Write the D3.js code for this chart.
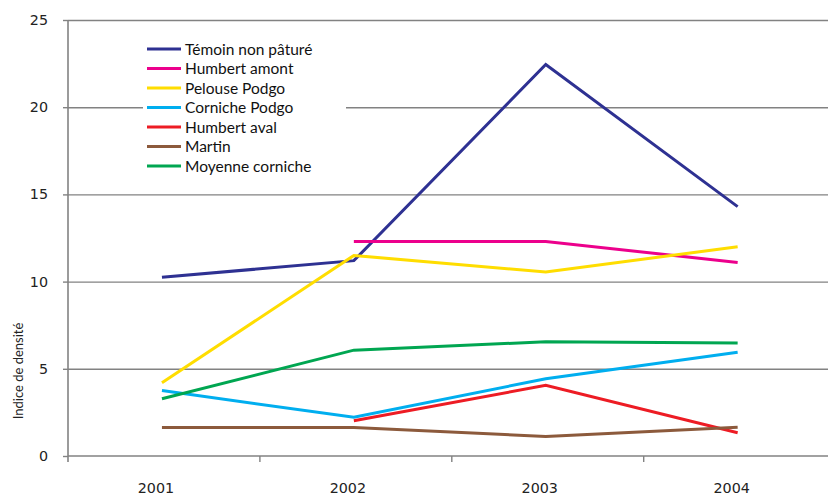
<!DOCTYPE html>
<html><head><meta charset="utf-8">
<script src="https://cdn.jsdelivr.net/npm/d3@7"></script>
<style>body{margin:0;background:#fff}svg{display:block}</style>
</head><body>
<svg id="c" width="828" height="495"></svg>
<script>
const years = ["2001","2002","2003","2004"];
const seriesNames = ["Témoin non pâturé","Humbert amont","Pelouse Podgo","Corniche Podgo","Humbert aval","Martin","Moyenne corniche"];
const seriesColors = ["#2E3192","#EC008C","#FFDD00","#00AEEF","#ED1C24","#8C5A3C","#00A651"];
const temoin   = [10.25, 11.2, 22.45, 14.3];
const humbAmont= [null, 12.3, 12.3, 11.1];
const pelouse  = [4.2, 11.5, 10.55, 12.0];
const corniche = [3.75, 2.22, 4.43, 5.95];
const humbAval = [null, 2.02, 4.05, 1.33];
const martin   = [1.63, 1.63, 1.12, 1.65];
const moyenne  = [3.28, 6.07, 6.55, 6.48];
const yTicks = [0,5,10,15,20,25];
const yTitle = "Indice de densité";

const seriesValues = [temoin, humbAmont, pelouse, corniche, humbAval, martin, moyenne];

(function(){
const svg = d3.select("#c");
const mL = 68, mB = 456, mT = 20, mR = 828;
const x = d3.scaleBand().domain(years).range([mL, 835.6]).padding(0);
const y = d3.scaleLinear().domain([0,25]).range([mB, mT]);
const bw = x.bandwidth();
const gray = "#828282";

// gridlines
const grid = svg.append("g").attr("transform",`translate(${mL},0)`)
  .call(d3.axisLeft(y).tickValues(yTicks.filter(d=>d>0)).tickSize(-(mR-mL)).tickFormat(""));
grid.select(".domain").remove();
grid.selectAll("line").attr("stroke",gray).attr("stroke-width",1.4);

// y axis
const ya = svg.append("g").attr("transform",`translate(${mL},0)`)
  .call(d3.axisLeft(y).tickValues(yTicks).tickSize(5).tickPadding(15));
ya.select(".domain").attr("stroke",gray).attr("stroke-width",1.6)
  .attr("d",`M0,${mT}V${mB+6}`);
ya.selectAll("line").attr("stroke",gray).attr("stroke-width",1.4);
ya.selectAll("text").attr("font-family","'DejaVu Sans', Verdana, sans-serif").attr("font-size",14.3).attr("fill","#222");

// x axis
const xa = svg.append("g").attr("transform",`translate(0,${mB})`)
  .call(d3.axisBottom(x).tickSize(0).tickPadding(27));
xa.select(".domain").attr("stroke",gray).attr("stroke-width",1.6).attr("d",`M${mL},0H${mR}`);
xa.selectAll("text").attr("font-family","'DejaVu Sans', Verdana, sans-serif").attr("font-size",14.3).attr("fill","#222").attr("dx",-8);
svg.append("g").selectAll("line").data(years.slice(0,3)).join("line")
  .attr("x1",d=>x(d)+bw).attr("x2",d=>x(d)+bw).attr("y1",mB).attr("y2",mB+6)
  .attr("stroke",gray).attr("stroke-width",1.4);

// y title
svg.append("text").attr("transform","translate(23,371) rotate(-90)")
  .attr("text-anchor","middle").attr("font-family","Lato, 'Open Sans', sans-serif").attr("font-size",13)
  .attr("fill","#222").text(yTitle);

// legend
const lg = svg.append("g");
lg.append("rect").attr("x",143).attr("y",36).attr("width",203).attr("height",142).attr("fill","#fff");
const rowY = i => 49 + i*19.5;
seriesNames.forEach((n,i)=>{
  lg.append("line").attr("x1",147).attr("x2",181).attr("y1",rowY(i)).attr("y2",rowY(i))
    .attr("stroke",seriesColors[i]).attr("stroke-width",3);
  lg.append("text").attr("x",185).attr("y",rowY(i)).attr("dy","0.36em")
    .attr("font-family","Lato, 'Open Sans', sans-serif").attr("font-size",15.5).attr("fill","#111").text(n);
});

// lines
const line = d3.line().defined(d=>d.v!=null).x(d=>x(d.c)+bw/2-2).y(d=>y(d.v));
seriesValues.forEach((vals,i)=>{
  svg.append("path").datum(years.map((c,j)=>({c, v: vals[j]})))
    .attr("d",line).attr("fill","none").attr("stroke",seriesColors[i]).attr("stroke-width",3)
    .attr("stroke-linejoin","miter");
});
})();
</script>
</body></html>
